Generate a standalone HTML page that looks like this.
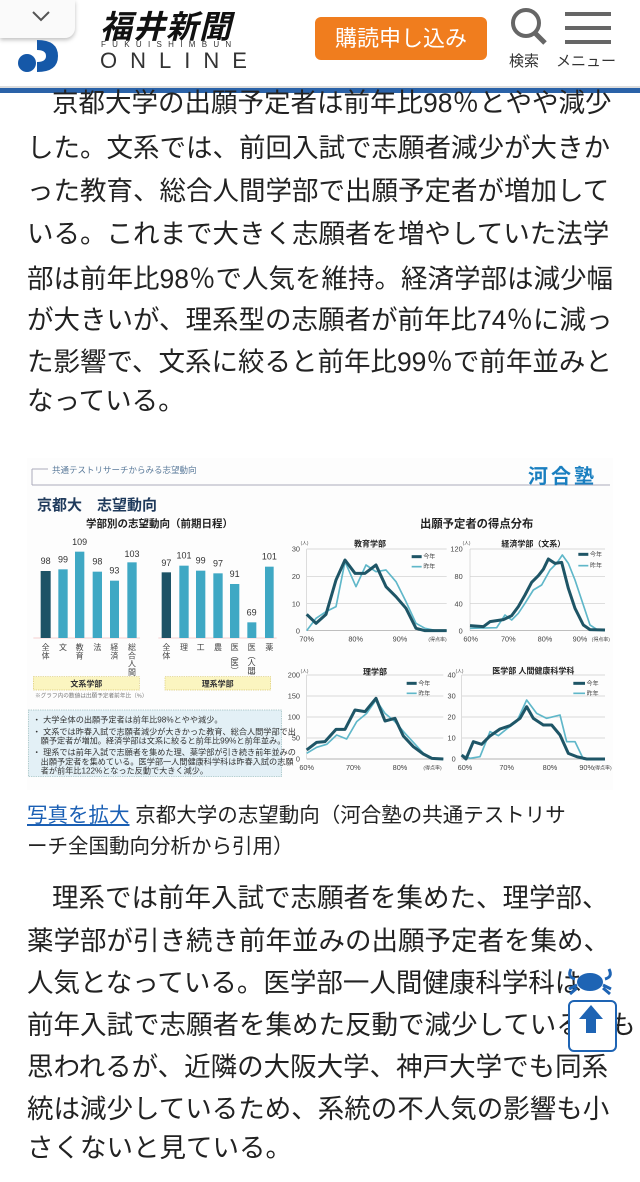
<!DOCTYPE html>
<html><head><meta charset="utf-8"><style>
body{margin:0;width:640px;height:1182px;background:#fff;position:relative;overflow:hidden;font-family:"Liberation Sans","Noto Sans CJK JP",sans-serif;color:#222}
.a{position:absolute}
.t{position:absolute;left:27px;font-size:26.5px;white-space:nowrap;color:#222;line-height:30px}
</style></head><body>
<!-- header -->
<div class="a" style="left:0;top:0;width:640px;height:88px;background:#fff"></div>
<div class="a" style="left:0;top:0;width:75px;height:38px;background:#fafafa;border-radius:0 0 10px 0;box-shadow:0 2px 4px rgba(0,0,0,.25)"></div>
<svg class="a" style="left:0;top:0" width="640" height="95">
<polyline points="33,12 41,20 49,12" fill="none" stroke="#555" stroke-width="2"/>
<circle cx="27" cy="63" r="9" fill="#1558a8"/>
<path d="M37,40 Q58,40 58,56 Q58,72 37,72 L37,62 Q46,62 46,56 Q46,50 37,50 Z" fill="#1558a8"/>
<circle cx="526" cy="23" r="13" fill="none" stroke="#666" stroke-width="4"/>
<line x1="535" y1="33" x2="545" y2="43" stroke="#666" stroke-width="5"/>
<rect x="565" y="12" width="46" height="4" fill="#666"/><rect x="565" y="26" width="46" height="4" fill="#666"/><rect x="565" y="40" width="46" height="4" fill="#666"/>
<rect x="0" y="86" width="640" height="2" fill="#ddd"/>
<rect x="0" y="88" width="640" height="5" fill="#2a62a8"/>
</svg>
<div class="a" style="left:100px;top:2px;font-size:32px;font-weight:bold;font-style:italic;letter-spacing:1px;color:#111">福井新聞</div>
<div class="a" style="left:101px;top:40px;font-size:8px;letter-spacing:6.3px;color:#333">FUKUISHIMBUN</div>
<div class="a" style="left:100px;top:48px;font-size:22px;letter-spacing:13px;color:#333;font-weight:300">ONLINE</div>
<div class="a" style="left:315px;top:17px;width:172px;height:43px;background:#f07d1e;border-radius:6px;color:#fff;font-size:22px;line-height:43px;text-align:center">購読申し込み</div>
<div class="a" style="left:509px;top:50px;font-size:15px;color:#333">検索</div>
<div class="a" style="left:556px;top:50px;font-size:15px;color:#333">メニュー</div>
<!-- para 1 -->
<div class="t" style="top:88px;left:52px">京都大学の出願予定者は前年比98％とやや減少</div>
<div class="t" style="top:133px">した。文系では、前回入試で志願者減少が大きか</div>
<div class="t" style="top:176px">った教育、総合人間学部で出願予定者が増加して</div>
<div class="t" style="top:219px">いる。これまで大きく志願者を増やしていた法学</div>
<div class="t" style="top:264px">部は前年比98％で人気を維持。経済学部は減少幅</div>
<div class="t" style="top:305px">が大きいが、理系型の志願者が前年比74％に減っ</div>
<div class="t" style="top:347px">た影響で、文系に絞ると前年比99％で前年並みと</div>
<div class="t" style="top:386px">なっている。</div>
<!-- figure -->
<svg class="a" style="left:0;top:455px" width="640" height="335" viewBox="0 455 640 335" font-family="Liberation Sans, Noto Sans CJK JP, sans-serif">
<rect x="27" y="458" width="586" height="332" fill="#fdfdfd"/>
<line x1="32" y1="485" x2="610" y2="485" stroke="#aab" stroke-width="1"/>
<line x1="32" y1="469" x2="32" y2="485" stroke="#aab"/>
<line x1="32" y1="469" x2="48" y2="469" stroke="#aab"/>
<text x="52" y="473" font-size="8.5" fill="#5a7a9a">共通テストリサーチからみる志望動向</text>
<text x="528" y="483" font-size="20" font-weight="bold" fill="#1a7fc0" letter-spacing="3">河合塾</text>
<text x="37" y="510" font-size="15" font-weight="bold" fill="#1f3a5c">京都大　志望動向</text>
<text x="86" y="527" font-size="10.5" font-weight="bold" fill="#222">学部別の志望動向（前期日程）</text>
<g transform="translate(20,455) scale(0.33333)">
<line x1="40" y1="549" x2="360" y2="549" stroke="#f2c0c0" stroke-width="2"/>
<line x1="415" y1="549" x2="770" y2="549" stroke="#f2c0c0" stroke-width="2"/>
<rect x="62" y="348" width="30" height="201" fill="#1d5366"/>
<rect x="115" y="343" width="28" height="206" fill="#3fa8c4"/>
<rect x="165" y="290" width="28" height="259" fill="#3fa8c4"/>
<rect x="218" y="350" width="28" height="199" fill="#3fa8c4"/>
<rect x="270" y="377" width="27" height="172" fill="#3fa8c4"/>
<rect x="322" y="322" width="28" height="227" fill="#3fa8c4"/>
<rect x="425" y="352" width="28" height="197" fill="#1d5366"/>
<rect x="478" y="332" width="28" height="217" fill="#3fa8c4"/>
<rect x="528" y="347" width="28" height="202" fill="#3fa8c4"/>
<rect x="580" y="355" width="28" height="194" fill="#3fa8c4"/>
<rect x="630" y="387" width="28" height="162" fill="#3fa8c4"/>
<rect x="682" y="502" width="27" height="47" fill="#3fa8c4"/>
<rect x="735" y="335" width="26" height="214" fill="#3fa8c4"/>
<g font-size="27" fill="#333" text-anchor="middle">
<text x="77" y="327">98</text><text x="129" y="322">99</text><text x="179" y="270">109</text><text x="232" y="329">98</text><text x="283" y="356">93</text><text x="336" y="306">103</text>
<text x="439" y="333">97</text><text x="492" y="311">101</text><text x="542" y="326">99</text><text x="594" y="335">97</text><text x="644" y="366">91</text><text x="695" y="482">69</text><text x="748" y="314">101</text>
</g>
<g font-size="24" fill="#444" text-anchor="middle">
<text x="77" y="585">全</text><text x="77" y="610">体</text>
<text x="129" y="585">文</text>
<text x="179" y="585">教</text><text x="179" y="610">育</text>
<text x="232" y="585">法</text>
<text x="283" y="585">経</text><text x="283" y="610">済</text>
<text x="336" y="585">総</text><text x="336" y="610">合</text><text x="336" y="635">人</text><text x="336" y="660">間</text>
<text x="439" y="585">全</text><text x="439" y="610">体</text>
<text x="492" y="585">理</text><text x="542" y="585">工</text><text x="594" y="585">農</text>
<text x="644" y="585">医</text><text x="644" y="610">︵</text><text x="644" y="632">医</text><text x="644" y="655">︶</text>
<text x="695" y="585">医</text><text x="695" y="610">︵</text><text x="695" y="632">人</text><text x="695" y="655">間</text><text x="695" y="672">︶</text>
<text x="748" y="585">薬</text>
</g>
<rect x="40" y="665" width="318" height="40" fill="#fbf5c0" stroke="#d9c870" stroke-dasharray="4,3" stroke-width="2"/>
<rect x="435" y="665" width="317" height="40" fill="#fbf5c0" stroke="#d9c870" stroke-dasharray="4,3" stroke-width="2"/>
<text x="199" y="694" font-size="24" font-weight="bold" text-anchor="middle" fill="#333">文系学部</text>
<text x="593" y="694" font-size="24" font-weight="bold" text-anchor="middle" fill="#333">理系学部</text>
<text x="45" y="728" font-size="17" fill="#777">※グラフ内の数値は出願予定者前年比（%）</text>
<rect x="25" y="765" width="760" height="200" fill="#e3f0f6" stroke="#9bb" stroke-dasharray="4,3" stroke-width="2"/>
<g font-size="24.5" fill="#333">
<text x="38" y="803">・ 大学全体の出願予定者は前年比98%とやや減少。</text>
<text x="38" y="838">・ 文系では昨春入試で志願者減少が大きかった教育、総合人間学部で出</text>
<text x="62" y="866">願予定者が増加。経済学部は文系に絞ると前年比99%と前年並み。</text>
<text x="38" y="900">・ 理系では前年入試で志願者を集めた理、薬学部が引き続き前年並みの</text>
<text x="62" y="928">出願予定者を集めている。医学部一人間健康科学科は昨春入試の志願</text>
<text x="62" y="956">者が前年比122%となった反動で大きく減少。</text>
</g>
</g>
<g transform="translate(290,455) scale(0.33333)" font-size="22" fill="#444">
<text x="560" y="218" font-size="34" font-weight="bold" text-anchor="middle" fill="#222">出願予定者の得点分布</text>
<g stroke="#ccc" stroke-width="2">
<line x1="50" y1="282" x2="470" y2="282"/><line x1="50" y1="364" x2="470" y2="364"/><line x1="50" y1="446" x2="470" y2="446"/><line x1="50" y1="527" x2="470" y2="527" stroke="#999"/>
<line x1="540" y1="282" x2="945" y2="282"/><line x1="540" y1="364" x2="945" y2="364"/><line x1="540" y1="446" x2="945" y2="446"/><line x1="540" y1="527" x2="945" y2="527" stroke="#999"/>
<line x1="50" y1="660" x2="460" y2="660"/><line x1="50" y1="723" x2="460" y2="723"/><line x1="50" y1="786" x2="460" y2="786"/><line x1="50" y1="849" x2="460" y2="849"/><line x1="50" y1="912" x2="460" y2="912" stroke="#999"/>
<line x1="515" y1="660" x2="945" y2="660"/><line x1="515" y1="723" x2="945" y2="723"/><line x1="515" y1="786" x2="945" y2="786"/><line x1="515" y1="849" x2="945" y2="849"/><line x1="515" y1="912" x2="945" y2="912" stroke="#999"/>
<line x1="50" y1="282" x2="50" y2="527"/><line x1="540" y1="282" x2="540" y2="527"/><line x1="50" y1="660" x2="50" y2="912"/><line x1="515" y1="660" x2="515" y2="912"/>
</g>
<g text-anchor="end"><text x="30" y="290">30</text><text x="30" y="372">20</text><text x="30" y="454">10</text><text x="30" y="535">0</text>
<text x="518" y="290">120</text><text x="518" y="372">80</text><text x="518" y="454">40</text><text x="518" y="535">0</text>
<text x="30" y="668">200</text><text x="30" y="731">150</text><text x="30" y="794">100</text><text x="30" y="857">50</text><text x="30" y="920">0</text>
<text x="497" y="668">40</text><text x="497" y="731">30</text><text x="497" y="794">20</text><text x="497" y="857">10</text><text x="497" y="920">0</text></g>
<g font-size="14"><text x="32" y="268">(人)</text><text x="518" y="268">(人)</text><text x="32" y="652">(人)</text><text x="497" y="652">(人)</text></g>
<g text-anchor="middle"><text x="50" y="560">70%</text><text x="197" y="560">80%</text><text x="330" y="560">90%</text>
<text x="542" y="560">60%</text><text x="655" y="560">70%</text><text x="765" y="560">80%</text><text x="870" y="560">90%</text>
<text x="50" y="945">60%</text><text x="190" y="945">70%</text><text x="330" y="945">80%</text>
<text x="525" y="945">60%</text><text x="650" y="945">70%</text><text x="780" y="945">80%</text><text x="890" y="945">90%</text></g>
<g font-size="15"><text x="415" y="558">(得点率)</text><text x="905" y="558">(得点率)</text><text x="400" y="943">(得点率)</text><text x="910" y="943">(得点率)</text></g>
<g font-size="24" font-weight="bold" fill="#222" text-anchor="middle"><text x="240" y="275">教育学部</text><text x="730" y="275">経済学部（文系）</text><text x="255" y="658">理学部</text><text x="730" y="655">医学部 人間健康科学科</text></g>
<g fill="none" stroke-linejoin="round">
<polyline stroke="#5fb7c9" stroke-width="5" points="50,527 78,490 108,470 138,455 165,320 198,395 228,330 258,350 288,345 318,380 348,440 378,505 405,520 440,527 470,527"/>
<polyline stroke="#1e5566" stroke-width="9" points="50,478 78,505 108,478 138,375 165,315 195,355 225,355 258,330 288,395 318,425 348,460 378,520 405,527 440,527 470,527"/>
<polyline stroke="#5fb7c9" stroke-width="5" points="540,520 620,518 645,480 665,495 685,475 705,445 730,405 755,390 780,345 800,325 817,300 835,325 855,375 880,450 900,510 920,523 945,525"/>
<polyline stroke="#1e5566" stroke-width="9" points="540,512 580,515 600,500 640,494 665,482 685,455 705,420 725,382 745,362 760,343 775,312 795,325 815,322 835,400 855,460 880,510 900,524 945,525"/>
<polyline stroke="#5fb7c9" stroke-width="5" points="50,895 80,877 110,868 140,840 170,852 200,800 230,775 258,735 285,775 315,800 345,835 370,862 400,895 430,910 460,912"/>
<polyline stroke="#1e5566" stroke-width="9" points="50,885 80,862 105,860 138,823 165,823 195,765 225,770 258,730 285,798 315,790 340,843 370,875 400,897 425,910 460,912"/>
<polyline stroke="#5fb7c9" stroke-width="5" points="515,900 540,910 570,905 600,830 625,842 650,822 680,800 710,735 740,775 770,790 790,785 810,780 830,860 855,860 880,912 945,912"/>
<polyline stroke="#1e5566" stroke-width="9" points="515,900 528,912 550,860 575,868 600,843 630,822 660,812 690,790 710,755 730,790 760,810 785,810 810,840 835,895 860,905 890,912 945,912"/>
</g>
<g font-size="18"><line x1="365" y1="305" x2="395" y2="305" stroke="#1e5566" stroke-width="9"/><text x="400" y="311">今年</text>
<line x1="365" y1="335" x2="395" y2="335" stroke="#5fb7c9" stroke-width="5"/><text x="400" y="341">昨年</text>
<line x1="865" y1="298" x2="895" y2="298" stroke="#1e5566" stroke-width="9"/><text x="900" y="304">今年</text>
<line x1="865" y1="332" x2="895" y2="332" stroke="#5fb7c9" stroke-width="5"/><text x="900" y="338">昨年</text>
<line x1="350" y1="685" x2="380" y2="685" stroke="#1e5566" stroke-width="9"/><text x="385" y="691">今年</text>
<line x1="350" y1="715" x2="380" y2="715" stroke="#5fb7c9" stroke-width="5"/><text x="385" y="721">昨年</text>
<line x1="850" y1="685" x2="885" y2="685" stroke="#1e5566" stroke-width="9"/><text x="890" y="691">今年</text>
<line x1="850" y1="715" x2="885" y2="715" stroke="#5fb7c9" stroke-width="5"/><text x="890" y="721">昨年</text></g>
</g>
</svg>
<!-- caption -->
<div class="a" style="left:27px;top:800px;font-size:20.5px;line-height:31px;color:#222;white-space:nowrap"><span style="color:#1a5fb4;text-decoration:underline">写真を拡大</span> 京都大学の志望動向（河合塾の共通テストリサ<br>ーチ全国動向分析から引用）</div>
<!-- para 2 -->
<div class="t" style="top:883px;left:52px">理系では前年入試で志願者を集めた、理学部、</div>
<div class="t" style="top:926px">薬学部が引き続き前年並みの出願予定者を集め、</div>
<div class="t" style="top:968px">人気となっている。医学部一人間健康科学科は</div>
<div class="t" style="top:1010px">前年入試で志願者を集めた反動で減少しているとも</div>
<div class="t" style="top:1052px">思われるが、近隣の大阪大学、神戸大学でも同系</div>
<div class="t" style="top:1094px">統は減少しているため、系統の不人気の影響も小</div>
<div class="t" style="top:1133px">さくないと見ている。</div>
<!-- floating icons -->
<div class="a" style="left:568px;top:1000px;width:45px;height:48px;background:#fff;border:2px solid #1e64b4;border-radius:6px"></div>
<svg class="a" style="left:565px;top:965px" width="52" height="85">
<ellipse cx="25" cy="17" rx="13" ry="9" fill="#1e64b4"/>
<path d="M6,4 Q2,12 10,14 M44,4 Q48,12 40,14 M12,20 L4,24 M38,20 L46,24 M12,23 L5,29 M38,23 L45,29" stroke="#1e64b4" stroke-width="3" fill="none"/>
<path d="M26,40 L14,54 L21,54 L21,68 L31,68 L31,54 L38,54 Z" fill="#1e64b4"/>
</svg>
</body></html>
